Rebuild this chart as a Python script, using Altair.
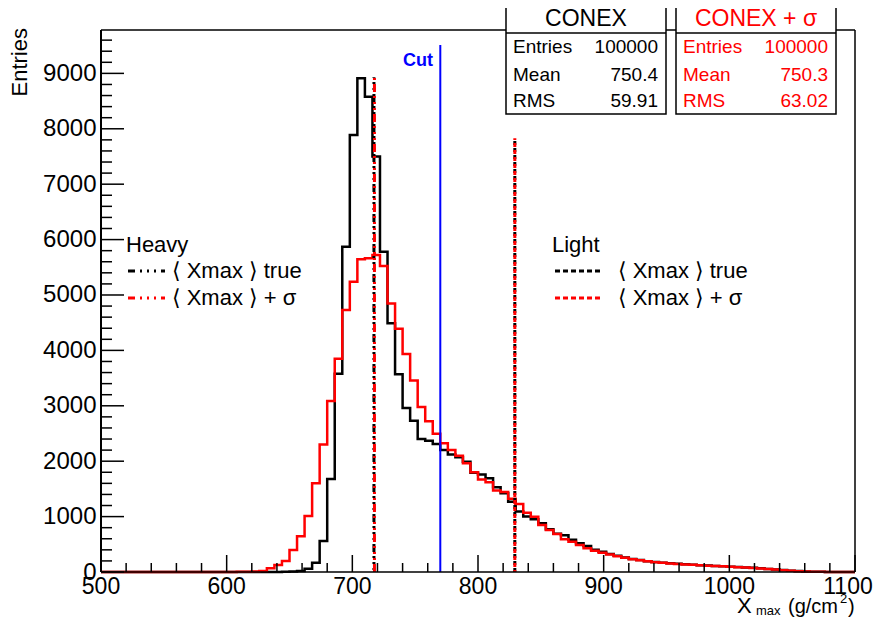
import altair as alt
import pandas as pd

# ---------------- data ----------------
X_MIN, X_MAX, BIN_W = 500, 1100, 6
Y_MAX = 9783

black_counts = [0] * 23 + [
    1, 3, 8, 20, 60, 165, 560, 1680, 3580, 5870, 7890, 8910, 8580, 7500, 5780,
    4490, 3570, 2960, 2730, 2400, 2370, 2310, 2200, 2120, 2070, 1990, 1790, 1760,
    1690, 1530, 1420, 1270, 1090, 1000, 950, 880, 770, 690, 665, 580, 520, 470,
    400, 365, 325, 295, 260, 235, 215, 195, 180, 168, 157, 147, 139, 131, 124,
    117, 110, 104, 97, 90, 83, 75, 66, 56, 45, 34, 24, 16, 10, 6, 3, 2, 1, 1, 0]

red_counts = [0] * 15 + [
    1, 1, 2, 3, 5, 8, 20, 66, 126, 200, 395, 645, 1010, 1600, 2300, 3087, 3850,
    4729, 5240, 5644, 5665, 5720, 5523, 4845, 4390, 3935, 3457, 2978, 2720, 2497,
    2323, 2200, 2100, 1962, 1800, 1668, 1620, 1470, 1445, 1320, 1227, 1071, 998,
    848, 758, 686, 590, 547, 487, 427, 385, 349, 315, 285, 255, 232, 212, 193,
    178, 166, 155, 145, 137, 129, 122, 115, 108, 102, 95, 88, 81, 73, 64, 54, 43,
    33, 23, 15, 9, 5, 3, 2, 1, 1, 0]

heavy_true_x, heavy_sigma_x, heavy_top = 717.2, 717.6, 8930
light_true_x, light_sigma_x, light_top = 829.3, 829.3, 7830
cut_x, cut_top = 770, 9510

x_major = [500, 600, 700, 800, 900, 1000, 1100]
x_minor = [v for v in range(500, 1101, 20) if v % 100 != 0]
y_major = [0, 1000, 2000, 3000, 4000, 5000, 6000, 7000, 8000, 9000]
y_minor = [v for v in range(0, 9700, 200) if v % 1000 != 0]

stats_black = [("Entries", "100000"), ("Mean", "750.4"), ("RMS", "59.91")]
stats_red = [("Entries", "100000"), ("Mean", "750.3"), ("RMS", "63.02")]

# ---------------- layout ----------------
W, H = 754, 542
OX, OY = 101, 30          # page position of plot origin
FONT = "Liberation Sans, Arial, Helvetica, DejaVu Sans, sans-serif"
RED, BLUE = "#ff0000", "#0000ff"


def px(x):
    return x - OX


def py(y):
    return y - OY


edges = [X_MIN + BIN_W * k for k in range(len(black_counts))] + [X_MAX]
df_black = pd.DataFrame({"x": edges, "y": black_counts + [black_counts[-1]]})
df_red = pd.DataFrame({"x": edges, "y": red_counts + [red_counts[-1]]})

xs = alt.Scale(domain=[X_MIN, X_MAX], nice=False, zero=False)
ys = alt.Scale(domain=[0, Y_MAX], nice=False, zero=False)
xaxis = None
yaxis = alt.Axis(values=y_major, title=None, ticks=False, domain=False, grid=False,
                 labelFontSize=24, labelFont=FONT, labelColor="black", labelPadding=5,
                 format="d", labelOverlap=False)


def X(f="x"):
    return alt.X(f"{f}:Q", scale=xs, axis=xaxis)


def Y(f="y"):
    return alt.Y(f"{f}:Q", scale=ys, axis=yaxis)


dummy = pd.DataFrame({"d": [0]})


def text(s, x, y, size=22, color="black", align="left", baseline="middle",
         weight="normal", angle=0):
    kw = dict(text=s, font=FONT, fontSize=size, color=color, align=align,
              baseline=baseline, fontWeight=weight)
    if angle:
        kw["angle"] = angle
    return alt.Chart(dummy).mark_text(**kw).encode(x=alt.value(x), y=alt.value(y))


def hline(x1, x2, y, color="black", width=1.5, dash=None, offset=0):
    kw = dict(color=color, strokeWidth=width)
    if dash:
        kw["strokeDash"] = dash
        kw["strokeDashOffset"] = offset
    return alt.Chart(dummy).mark_rule(**kw).encode(
        x=alt.value(x1), x2=alt.value(x2), y=alt.value(y))


def vline(x, y1, y2, color="black", width=1.5):
    return alt.Chart(dummy).mark_rule(color=color, strokeWidth=width).encode(
        x=alt.value(x), y=alt.value(y1), y2=alt.value(y2))


layers = []

# histograms
layers.append(alt.Chart(df_black).mark_line(interpolate="step-after", color="black",
                                            strokeWidth=2.5, strokeJoin="miter")
              .encode(x=X(), y=Y()))
layers.append(alt.Chart(df_red).mark_line(interpolate="step-after", color=RED,
                                          strokeWidth=2.5, strokeJoin="miter")
              .encode(x=X(), y=Y()))


def vrule(xv, top, color, dash, offset=0, width=3):
    d = pd.DataFrame({"x": [xv], "y": [0], "y2": [top]})
    kw = dict(color=color, strokeWidth=width)
    if dash:
        kw["strokeDash"] = dash
        kw["strokeDashOffset"] = offset
    return alt.Chart(d).mark_rule(**kw).encode(x=X(), y=Y(), y2="y2:Q")


DASHDOT = [8, 4, 2, 4, 2, 4, 2, 4]
layers.append(vrule(heavy_true_x, heavy_top, "black", DASHDOT, 10))
layers.append(vrule(heavy_sigma_x, heavy_top, RED, DASHDOT, 0))
layers.append(vrule(light_true_x, light_top, "black", [4, 3], 0))
layers.append(vrule(light_sigma_x, light_top, RED, [4, 3], 2))
layers.append(vrule(cut_x, cut_top, BLUE, None, width=2))

# ticks
layers.append(alt.Chart(pd.DataFrame({"x": x_major})).mark_rule(color="black", strokeWidth=1.5)
              .encode(x=X(), y=alt.value(H), y2=alt.value(H - 17)))
layers.append(alt.Chart(pd.DataFrame({"x": x_minor})).mark_rule(color="black", strokeWidth=1.5)
              .encode(x=X(), y=alt.value(H), y2=alt.value(H - 9)))
layers.append(alt.Chart(pd.DataFrame({"y": y_major})).mark_rule(color="black", strokeWidth=1.5)
              .encode(y=Y(), x=alt.value(0), x2=alt.value(23)))
layers.append(alt.Chart(pd.DataFrame({"y": y_minor})).mark_rule(color="black", strokeWidth=1.5)
              .encode(y=Y(), x=alt.value(0), x2=alt.value(11)))

# x tick labels (last one nudged so it stays inside the page)
lab_kw = dict(font=FONT, fontSize=23, color="black", baseline="top", align="center")
layers.append(alt.Chart(pd.DataFrame({"x": x_major[:-1]})).mark_text(**lab_kw)
              .encode(x=X(), y=alt.value(H + 4), text=alt.Text("x:Q", format="d")))
layers.append(alt.Chart(pd.DataFrame({"x": x_major[-1:]})).mark_text(dx=-7, **lab_kw)
              .encode(x=X(), y=alt.value(H + 4), text=alt.Text("x:Q", format="d")))

# frame
layers.append(hline(0, W, 0))
layers.append(hline(0, W, H))
layers.append(vline(0, 0, H, width=2))
layers.append(vline(W, 0, H))

# Cut label
layers.append(text("Cut", px(418), py(61), size=18, color=BLUE, align="center", weight="bold"))

# Heavy legend
LDASH = [7, 5, 2, 5, 2, 5, 2, 5]
layers.append(text("Heavy", px(126), py(245)))
layers.append(hline(px(128), px(165), py(271), "black", 3, LDASH))
layers.append(text("\u27e8 Xmax \u27e9 true", px(172), py(271)))
layers.append(hline(px(128), px(165), py(298), RED, 3, LDASH))
layers.append(text("\u27e8 Xmax \u27e9 + \u03c3", px(172), py(298)))

# Light legend
layers.append(text("Light", px(552), py(245)))
layers.append(hline(px(555), px(603), py(271), "black", 3, [5, 3]))
layers.append(text("\u27e8 Xmax \u27e9 true", px(618), py(271)))
layers.append(hline(px(555), px(603), py(298), RED, 3, [5, 3]))
layers.append(text("\u27e8 Xmax \u27e9 + \u03c3", px(618), py(298)))

# axis titles
layers.append(text("Entries", px(20), py(28), size=22, align="right", angle=270))
layers.append(text("X", px(737), py(613), size=22, baseline="alphabetic"))
layers.append(text("max", px(756), py(615), size=13, baseline="alphabetic"))
layers.append(text("(g/cm", px(788), py(613), size=20, baseline="alphabetic"))
layers.append(text("2", px(840), py(603), size=13, baseline="alphabetic"))
layers.append(text(")", px(848), py(613), size=20, baseline="alphabetic"))


# stats boxes
def stats_box(x0, x1, title, rows, color):
    out = [alt.Chart(dummy).mark_rect(fill="white", stroke="black", strokeWidth=1.5)
           .encode(x=alt.value(px(x0)), x2=alt.value(px(x1)),
                   y=alt.value(py(4)), y2=alt.value(py(114)))]
    out.append(hline(px(x0), px(x1), py(33)))
    out.append(text(title, px((x0 + x1) / 2), py(19), size=23, color=color, align="center"))
    for (lab, val), yy in zip(rows, [47, 75, 101]):
        out.append(text(lab, px(x0 + 7), py(yy), size=19, color=color))
        out.append(text(val, px(x1 - 8), py(yy), size=19, color=color, align="right"))
    return out


layers += stats_box(506, 666, "CONEX", stats_black, "black")
layers += stats_box(676, 836, "CONEX + \u03c3", stats_red, RED)

chart = alt.layer(*layers).properties(
    width=W, height=H,
    padding={"left": OX - 8, "top": OY - 8, "right": 18, "bottom": 45},
    autosize=alt.AutoSizeParams(type="none"),
    background="white",
).configure_view(stroke=None)

chart.save("out.html", embed_options={"renderer": "svg", "actions": False})
